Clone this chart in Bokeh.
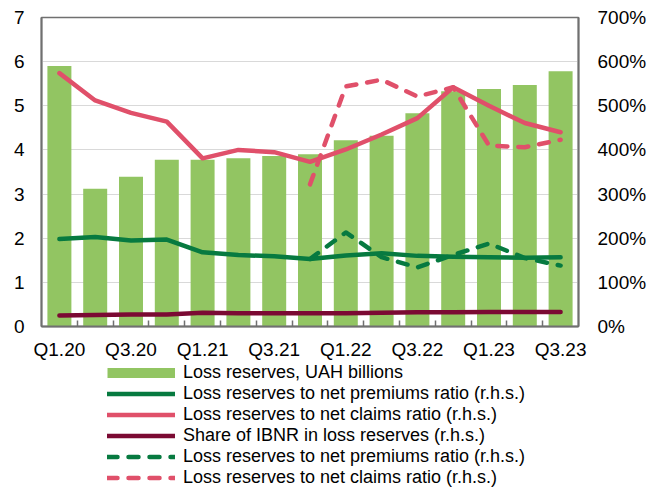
import numpy as np
from bokeh.plotting import figure
from bokeh.layouts import column
from bokeh.models import (Range1d, LinearAxis, FixedTicker, PrintfTickFormatter,
                          Legend, LegendItem, ColumnDataSource)
from bokeh.embed import file_html
from bokeh.resources import INLINE

quarters = ["Q1.20", "Q2.20", "Q3.20", "Q4.20", "Q1.21", "Q2.21", "Q3.21", "Q4.21",
            "Q1.22", "Q2.22", "Q3.22", "Q4.22", "Q1.23", "Q2.23", "Q3.23"]
reserves = [5.90, 3.12, 3.39, 3.78, 3.78, 3.81, 3.86, 3.90, 4.22, 4.32, 4.83, 5.33, 5.38, 5.47, 5.78]
premiums_ratio = [198, 203, 195, 197, 168, 162, 159, 153, 161, 166, 160, 158, 157, 156, 157]
claims_ratio = [574, 512, 484, 464, 381, 400, 395, 373, 401, 435, 472, 542, 500, 461, 440]
ibnr_share = [25, 26, 27, 27, 31, 30, 30, 30, 30, 31, 32, 32, 33, 33, 33]
premiums_ratio_alt = [None, None, None, None, None, None, None, 153, 213, 157, 134, 162, 188, 155, 138]
claims_ratio_alt = [None, None, None, None, None, None, None, 322, 544, 559, 521, 542, 410, 406, 423]

labels = ["Loss reserves, UAH billions",
          "Loss reserves to net premiums ratio (r.h.s.)",
          "Loss reserves to net claims ratio (r.h.s.)",
          "Share of IBNR in loss reserves (r.h.s.)",
          "Loss reserves to net premiums ratio (r.h.s.)",
          "Loss reserves to net claims ratio (r.h.s.)"]

BAR = "#92C562"
GREEN = "#077A40"
RED = "#E0506A"
MAROON = "#7B0A33"
AXIS = "#707070"
FONT = "Liberation Sans"
FS = "19px"
LFS = "18px"
LW = 4.5
DASH = "10 11"

idx = np.arange(len(quarters))
src = ColumnDataSource(dict(
    x=idx, reserves=reserves, prem=premiums_ratio, claims=claims_ratio, ibnr=ibnr_share,
    prem_alt=np.array(premiums_ratio_alt, dtype=float),
    claims_alt=np.array(claims_ratio_alt, dtype=float)))

p = figure(width=650, height=362, output_backend="svg", toolbar_location=None,
           x_range=Range1d(-0.5, len(quarters) - 0.5), y_range=Range1d(0, 7),
           min_border_left=41, min_border_right=72, min_border_top=17, min_border_bottom=34)
p.extra_y_ranges = {"pct": Range1d(0, 700)}

p.outline_line_color = AXIS
p.outline_line_width = 1.5
p.xgrid.visible = False
p.ygrid.grid_line_color = "#D9D9D9"
p.ygrid.grid_line_width = 1
p.ygrid.ticker = FixedTicker(ticks=list(range(0, 8)))

# x axis
xa = p.xaxis[0]
xa.ticker = FixedTicker(ticks=[int(i) for i in idx if i % 2 == 0],
                        minor_ticks=[i + 0.5 for i in idx[:-1]])
xa.major_label_overrides = {int(i): q for i, q in zip(idx, quarters) if i % 2 == 0}
xa.major_tick_line_color = None
xa.major_tick_in = 0
xa.major_tick_out = 0
xa.minor_tick_in = 6
xa.minor_tick_out = 0
xa.minor_tick_line_color = AXIS
xa.minor_tick_line_width = 1.5
xa.axis_line_color = AXIS
xa.axis_line_width = 2
xa.major_label_standoff = 12
xa.major_label_text_font = FONT
xa.major_label_text_font_size = FS
xa.major_label_text_color = "black"

# left axis
ya = p.yaxis[0]
ya.ticker = FixedTicker(ticks=list(range(0, 8)))
ya.major_tick_line_color = None
ya.minor_tick_line_color = None
ya.major_tick_in = 0
ya.major_tick_out = 0
ya.minor_tick_out = 0
ya.axis_line_color = AXIS
ya.axis_line_width = 2
ya.major_label_standoff = 17
ya.major_label_text_font = FONT
ya.major_label_text_font_size = FS
ya.major_label_text_color = "black"

# right axis
ra = LinearAxis(y_range_name="pct", ticker=FixedTicker(ticks=list(range(0, 701, 100))),
                formatter=PrintfTickFormatter(format="%d%%"))
ra.major_tick_line_color = None
ra.minor_tick_line_color = None
ra.major_tick_in = 0
ra.major_tick_out = 0
ra.minor_tick_out = 0
ra.axis_line_color = AXIS
ra.axis_line_width = 2
ra.major_label_standoff = 19
ra.major_label_text_font = FONT
ra.major_label_text_font_size = FS
ra.major_label_text_color = "black"
p.add_layout(ra, "right")

p.vbar(x="x", top="reserves", width=0.67, source=src, fill_color=BAR, line_color=None)
common = dict(source=src, y_range_name="pct", line_width=LW, line_cap="round", line_join="round")
p.line("x", "ibnr", line_color=MAROON, **common)
p.line("x", "prem", line_color=GREEN, **common)
p.line("x", "claims", line_color=RED, **common)
p.line("x", "prem_alt", line_color=GREEN, line_dash=DASH, **common)
p.line("x", "claims_alt", line_color=RED, line_dash=DASH, **common)

# legend panel below the chart (its key renderers lie outside its visible range)
q = figure(width=650, height=126, output_backend="svg", toolbar_location=None,
           x_axis_location=None, y_axis_location=None,
           x_range=Range1d(-100, -99), y_range=Range1d(0, 1),
           min_border_left=41, min_border_right=72, min_border_top=0, min_border_bottom=0)
q.outline_line_color = None
q.grid.visible = False
kc = dict(source=src, line_width=LW, line_cap="round", line_join="round")
k_bar = q.line("x", "reserves", source=src, line_color=BAR, line_width=10, line_cap="butt")
k_prem = q.line("x", "prem", line_color=GREEN, **kc)
k_claims = q.line("x", "claims", line_color=RED, **kc)
k_ibnr = q.line("x", "ibnr", line_color=MAROON, **kc)
k_prem_alt = q.line("x", "prem_alt", line_color=GREEN, line_dash=DASH, **kc)
k_claims_alt = q.line("x", "claims_alt", line_color=RED, line_dash=DASH, **kc)

items = [LegendItem(label=lab, renderers=[r]) for lab, r in
         zip(labels, [k_bar, k_prem, k_claims, k_ibnr, k_prem_alt, k_claims_alt])]
legend = Legend(items=items, location=(66, 0), orientation="vertical",
                glyph_width=68, glyph_height=21, label_height=21, spacing=0,
                label_standoff=8, padding=0, margin=0,
                label_text_font=FONT, label_text_font_size=LFS, label_text_color="black",
                border_line_color=None, background_fill_alpha=0)
q.add_layout(legend)

layout = column(p, q, spacing=0)
open("out.html", "w").write(file_html(layout, INLINE))
